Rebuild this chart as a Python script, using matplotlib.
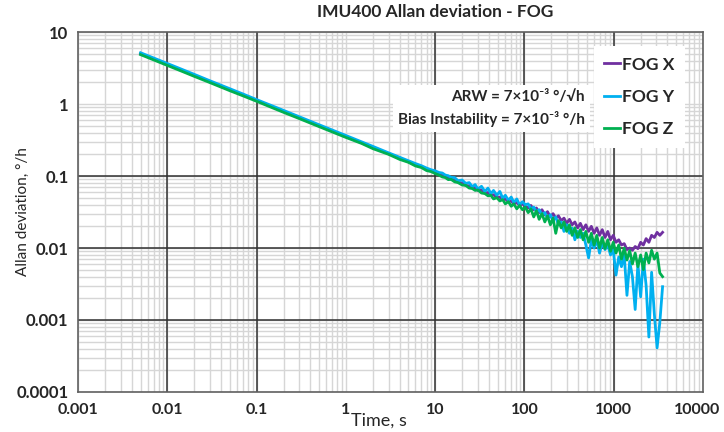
import matplotlib
matplotlib.use("Agg")
import matplotlib.pyplot as plt
import matplotlib.transforms as mtransforms
from matplotlib.ticker import LogLocator, FixedLocator, FuncFormatter, NullFormatter

plt.rcParams['font.family'] = ['Lato', 'DejaVu Sans']

x_ticks = [0.001, 0.01, 0.1, 1, 10, 100, 1000, 10000]
y_ticks = [0.0001, 0.001, 0.01, 0.1, 1, 10]

# averaging time, s
tau = [0.005, 0.007, 0.01, 0.015, 0.02, 0.03, 0.05, 0.07, 0.1, 0.15, 0.2, 0.3,
       0.5, 0.7, 1, 1.5, 2, 3, 4, 5, 6, 7, 8, 9,
       10, 11, 12, 13, 14, 15, 16.5, 18, 20, 22, 24, 26, 28, 30, 33, 36, 39, 42,
       45, 49, 53, 57, 61, 66, 71, 76, 82, 88, 95, 102, 110, 118, 127, 136, 146,
       157, 169, 181, 195, 209, 224, 240, 258, 277, 297, 319, 342, 367, 394, 423,
       454, 487, 523, 561, 602, 646, 693, 744, 798, 857, 920, 987, 1060, 1137,
       1220, 1310, 1406, 1509, 1619, 1738, 1865, 2002, 2148, 2306, 2475, 2656,
       2851, 3059, 3283, 3524]

fog_x = [5.0, 4.23, 3.54, 2.89, 2.5, 2.04, 1.58, 1.34, 1.12, 0.913, 0.79, 0.646,
         0.5, 0.423, 0.354, 0.289, 0.25, 0.204, 0.177, 0.158, 0.144, 0.134, 0.125, 0.118,
         0.113, 0.105, 0.104, 0.097, 0.096, 0.090, 0.089, 0.082, 0.080, 0.074, 0.073,
         0.068, 0.069, 0.063, 0.064, 0.058, 0.059, 0.054, 0.055, 0.050, 0.051, 0.047,
         0.048, 0.044, 0.045, 0.041, 0.043, 0.039, 0.041, 0.038,
         0.036, 0.039, 0.034, 0.036, 0.031, 0.034, 0.029, 0.032, 0.027, 0.030, 0.026,
         0.028, 0.024, 0.026, 0.022, 0.025, 0.021, 0.023, 0.019, 0.022, 0.018, 0.021,
         0.017, 0.020, 0.016, 0.019, 0.015, 0.018, 0.014, 0.017, 0.013, 0.015,
         0.012, 0.013, 0.011, 0.0115, 0.0095, 0.010, 0.0093, 0.0105, 0.0098, 0.012,
         0.011, 0.0135, 0.012, 0.015, 0.014, 0.0165, 0.015, 0.0165]

fog_y = [5.15, 4.36, 3.65, 2.98, 2.58, 2.1, 1.63, 1.38, 1.15, 0.94, 0.815, 0.665,
         0.515, 0.436, 0.365, 0.298, 0.258, 0.21, 0.182, 0.163, 0.149, 0.139, 0.129, 0.122,
         0.118, 0.112, 0.110, 0.103, 0.101, 0.096, 0.095, 0.086, 0.088, 0.079, 0.081,
         0.071, 0.076, 0.066, 0.072, 0.061, 0.068, 0.057, 0.063, 0.054, 0.061, 0.049,
         0.054, 0.046, 0.051, 0.043, 0.048, 0.040, 0.044, 0.040,
         0.041, 0.035, 0.037, 0.032, 0.034, 0.029, 0.031, 0.026, 0.029, 0.024, 0.027,
         0.021, 0.023, 0.017, 0.021, 0.016, 0.019, 0.013, 0.017, 0.014, 0.016, 0.011,
         0.0073, 0.013, 0.010, 0.013, 0.0085, 0.012, 0.0095, 0.011, 0.0080, 0.0095,
         0.0042, 0.0075, 0.0055, 0.0080, 0.0022, 0.0065, 0.0040, 0.0014, 0.0060, 0.0021,
         0.0070, 0.0030, 0.00058, 0.0046, 0.0012, 0.00041, 0.00093, 0.0029]

fog_z = [4.85, 4.1, 3.43, 2.8, 2.42, 1.98, 1.53, 1.3, 1.09, 0.886, 0.766, 0.627,
         0.485, 0.41, 0.343, 0.283, 0.24, 0.2, 0.17, 0.155, 0.138, 0.131, 0.119, 0.115,
         0.108, 0.103, 0.097, 0.095, 0.089, 0.090, 0.083, 0.081, 0.075, 0.074, 0.068,
         0.067, 0.063, 0.064, 0.058, 0.057, 0.053, 0.054, 0.048, 0.050, 0.045, 0.047,
         0.041, 0.044, 0.038, 0.041, 0.035, 0.039, 0.034, 0.037,
         0.031, 0.035, 0.027, 0.033, 0.025, 0.030, 0.023, 0.028, 0.021, 0.026, 0.016,
         0.024, 0.019, 0.023, 0.017, 0.021, 0.015, 0.019, 0.014, 0.018, 0.013, 0.017,
         0.012, 0.016, 0.011, 0.015, 0.010, 0.014, 0.0098, 0.013, 0.0090, 0.012,
         0.0085, 0.011, 0.0070, 0.010, 0.0068, 0.0092, 0.0060, 0.0085, 0.0055, 0.0080,
         0.0050, 0.0085, 0.0062, 0.0093, 0.0070, 0.0085, 0.0045, 0.0040]

series = [("FOG X", fog_x, "#7030A0"),
          ("FOG Y", fog_y, "#00B0F0"),
          ("FOG Z", fog_z, "#00B050")]

fig = plt.figure(figsize=(7.24, 4.32), dpi=100)
ax = fig.add_axes([0.108, 0.0926, 0.863, 0.8333])

for name, vals, col in series:
    ax.plot(tau, vals, color=col, lw=2.0, label=name)

ax.set_xscale("log")
ax.set_yscale("log")
ax.set_xlim(x_ticks[0], x_ticks[-1])
ax.set_ylim(y_ticks[0], y_ticks[-1])

for axis, ticks in ((ax.xaxis, x_ticks), (ax.yaxis, y_ticks)):
    axis.set_major_locator(FixedLocator(ticks))
    axis.set_minor_locator(LogLocator(base=10, subs=range(2, 10), numticks=20))
    axis.set_major_formatter(FuncFormatter(lambda v, p: "{:g}".format(v)))
    axis.set_minor_formatter(NullFormatter())

ax.grid(True, which="both", color="#d6d6d6", lw=1.0)
# dark decade lines (the reference leaves the one at 1 light)
for d in [0.01, 0.1, 10, 100, 1000]:
    ax.axvline(d, color="#303030", lw=1.1, zorder=1)
for d in [0.001, 0.01, 0.1]:
    ax.axhline(d, color="#303030", lw=1.1, zorder=1)
ax.set_axisbelow(True)

ax.tick_params(which="both", length=0)
ax.tick_params(axis="x", pad=8, labelsize=11.5, labelcolor="#262626")
ax.tick_params(axis="y", pad=7, labelsize=12, labelcolor="#262626")
for lab in ax.get_xticklabels() + ax.get_yticklabels():
    lab.set_fontweight("bold")

# keep the 10000 label inside the canvas
fig.canvas.draw()
for lab in ax.get_xticklabels():
    if lab.get_text() == "10000":
        lab.set_transform(lab.get_transform() +
                          mtransforms.ScaledTranslation(-6 / 100, 0, fig.dpi_scale_trans))

for sp in ax.spines.values():
    sp.set_color("#606060")
    sp.set_linewidth(1.2)

ax.set_xlabel("Time, s", fontsize=13, color="#262626")
ax.xaxis.set_label_coords(0.482, -0.058)
ax.set_ylabel("Allan deviation, °/h", fontsize=11, color="#262626")
ax.yaxis.set_label_coords(-0.078, 0.5)

fig.text(0.601, 0.972, "IMU400 Allan deviation - FOG", ha="center", va="center",
         fontsize=12.5, fontweight="bold", color="#262626")

ax.text(0.811, 0.7875, "ARW = 7×10⁻³ °/√h\nBias Instability = 7×10⁻³ °/h",
        transform=ax.transAxes, ha="right", va="center", fontsize=11,
        fontweight="bold", color="#262626", linespacing=1.5,
        bbox=dict(boxstyle="square,pad=0.35", fc="white", ec="none"))

leg = ax.legend(loc="upper right", bbox_to_anchor=(0.985, 0.985), frameon=True,
                handlelength=0.9, handletextpad=0.15, labelspacing=0.95,
                borderpad=0.6, fancybox=False,
                prop={"weight": "bold", "size": 12.5})
leg.get_frame().set_edgecolor("none")
leg.get_frame().set_facecolor("white")
leg.get_frame().set_alpha(1)
for t in leg.get_texts():
    t.set_color("#262626")

fig.savefig("out.png", dpi=100)
